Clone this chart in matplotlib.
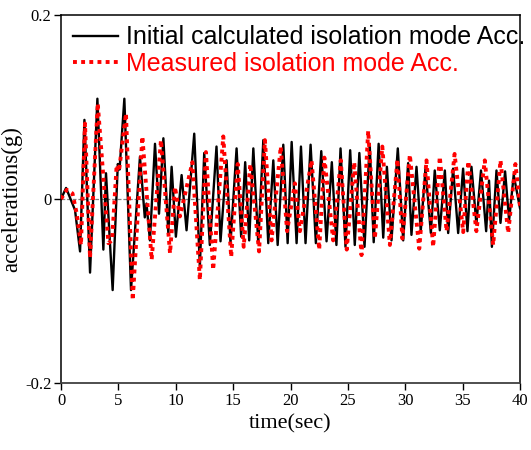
import matplotlib
matplotlib.use('Agg')
import matplotlib.pyplot as plt

# 计算值：时间(秒) 与 加速度(g) 的极值点
calc_t = [0.0, 0.44, 1.22, 1.66, 2.04, 2.53, 3.17, 3.69, 3.92, 4.50, 4.95, 5.10, 5.52, 6.10,
          6.88, 7.30, 7.45, 7.75, 8.19, 8.54, 8.92, 9.35, 9.64, 10.01, 10.51, 10.94, 11.61,
          12.10, 12.48, 12.97, 13.55, 13.90, 14.43, 14.77, 15.30, 15.70, 16.05, 16.40, 16.76,
          17.19, 17.63, 18.06, 18.50, 18.88, 19.37, 19.75, 20.10, 20.53, 20.91, 21.31, 21.75,
          22.21, 22.68, 23.14, 23.60, 24.00, 24.36, 24.79, 25.20, 25.60, 26.00, 26.45, 26.90,
          27.25, 27.68, 28.08, 28.40, 28.80, 29.35, 29.82, 30.25, 30.54, 30.98, 31.35, 31.76,
          32.23, 32.57, 33.01, 33.45, 33.74, 34.17, 34.61, 35.04, 35.42, 35.77, 36.20, 36.60,
          37.05, 37.30, 37.55, 37.95, 38.30, 38.70, 39.05, 39.45, 40.0]
calc_acc = [0.0, 0.012, -0.012, -0.057, 0.086, -0.080, 0.109, -0.055, 0.028, -0.099, 0.038, 0.032,
            0.109, -0.099, 0.046, -0.020, -0.005, -0.045, 0.060, -0.016, 0.066, -0.037, 0.035,
            -0.041, 0.026, -0.034, 0.071, -0.073, 0.050, -0.050, 0.057, -0.046, 0.042, -0.048,
            0.055, -0.041, 0.040, -0.045, 0.055, -0.048, 0.064, -0.048, 0.042, -0.050, 0.059,
            -0.048, 0.062, -0.048, 0.057, -0.048, 0.059, -0.048, 0.052, -0.046, 0.040, -0.050,
            0.055, -0.052, 0.053, -0.050, 0.050, -0.052, 0.060, -0.047, 0.060, -0.042, 0.035,
            -0.045, 0.055, -0.045, 0.039, -0.039, 0.035, -0.035, 0.033, -0.037, 0.031, -0.034,
            0.031, -0.037, 0.033, -0.037, 0.033, -0.035, 0.035, -0.027, 0.031, -0.035, 0.020,
            -0.052, 0.031, -0.026, 0.030, -0.023, 0.026, -0.010]

# 实测值
meas_t = [0.0, 0.50, 1.00, 1.37, 1.74, 2.09, 2.53, 3.20, 4.13, 4.45, 4.85, 5.05, 5.66, 6.25,
          7.09, 7.90, 8.71, 9.50, 9.93, 10.36, 11.45, 12.10, 12.63, 13.26, 14.14, 14.83, 15.40,
          15.92, 16.50, 17.26, 17.77, 18.35, 19.15, 19.70, 20.38, 20.82, 21.83, 22.50, 22.95,
          23.72, 24.38, 24.90, 25.55, 26.19, 26.77, 27.35, 28.00, 28.66, 29.32, 29.75, 30.40,
          31.22, 31.85, 32.43, 33.01, 33.60, 34.30, 35.05, 35.50, 36.20, 36.93, 37.66, 38.30,
          38.97, 39.60, 40.0]
meas_acc = [0.0, 0.010, 0.006, -0.016, -0.050, 0.082, -0.064, 0.104, -0.048, -0.045, 0.037, 0.030,
            0.093, -0.110, 0.068, -0.066, 0.064, -0.059, 0.013, -0.019, 0.040, -0.088, 0.051,
            -0.077, 0.068, -0.063, 0.038, -0.052, 0.038, -0.057, 0.064, -0.045, 0.057, -0.035,
            0.017, -0.035, 0.042, -0.055, 0.045, -0.045, 0.042, -0.055, 0.040, -0.061, 0.074,
            -0.043, 0.057, -0.050, 0.043, -0.043, 0.048, -0.054, 0.042, -0.052, 0.046, -0.035,
            0.049, -0.036, 0.041, -0.035, 0.042, -0.050, 0.042, -0.037, 0.038, -0.008]

x_ticks = [0, 5, 10, 15, 20, 25, 30, 35, 40]
y_ticks = [-0.2, 0, 0.2]
y_tick_labels = ['-0.2', '0', '0.2']

serif = ['Liberation Serif', 'DejaVu Serif']
sans = ['Liberation Sans', 'DejaVu Sans']

fig = plt.figure(figsize=(5.31, 4.5), dpi=100)
ax = fig.add_axes([0.1149, 0.1489, 0.8644, 0.8178])

ax.axhline(0, color='#808080', lw=0.9, ls=(0, (3, 1.5)), zorder=1)
ax.plot(calc_t, calc_acc, color='black', lw=1.7, solid_joinstyle='round', zorder=2,
        label='Initial calculated isolation mode Acc.')
ax.plot(meas_t, meas_acc, color='red', lw=2.8, ls=(0, (1, 1.1)),
        dash_capstyle='butt', zorder=3, label='Measured isolation mode Acc.')

ax.set_xlim(0, 40)
ax.set_ylim(-0.2, 0.2)
ax.set_xticks(x_ticks)
ax.set_yticks(y_ticks)
ax.set_yticklabels(y_tick_labels)
ax.tick_params(direction='out', length=5, width=1, labelsize=12, pad=2)
for lab in ax.get_xticklabels() + ax.get_yticklabels():
    lab.set_family(serif)

ax.spines['bottom'].set_linestyle((0, (2, 1)))
ax.spines['bottom'].set_color('#404040')
ax.spines['bottom'].set_linewidth(1.3)
for s in ['top', 'left', 'right']:
    ax.spines[s].set_linewidth(1.1)

ax.set_xlabel('time(sec)', family=serif, fontsize=16, labelpad=4)
ax.set_ylabel('accelerations(g)', family=serif, fontsize=16.5, labelpad=2)

leg = ax.legend(loc='upper left', bbox_to_anchor=(0.027, 0.972), frameon=False,
                prop={'family': sans, 'size': 18}, borderpad=0, borderaxespad=0,
                handlelength=1.8, handletextpad=0.3, labelspacing=0.1)
leg.get_texts()[1].set_color('red')
leg.set_clip_on(False)

fig.savefig('out.png', dpi=100)
